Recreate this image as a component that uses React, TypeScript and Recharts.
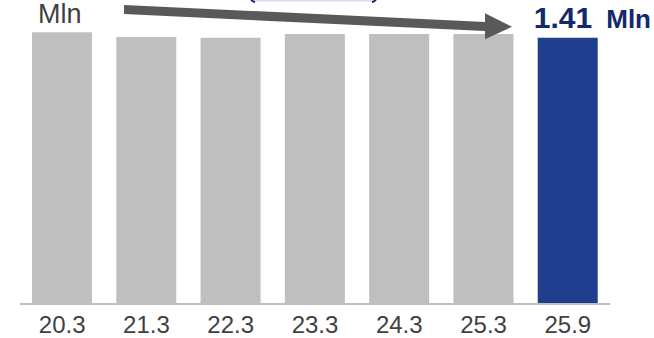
import React from 'react';
import { BarChart, Bar, XAxis, YAxis, Cell } from 'recharts';

const categories = ['20.3', '21.3', '22.3', '23.3', '24.3', '25.3', '25.9'];
const values = [1.44, 1.414, 1.41, 1.431, 1.431, 1.43, 1.41];
const highlightIndex = 6;
const headlineValue = '1.41';
const unitLabel = 'Mln';

const FONT = '"Liberation Sans", Arial, sans-serif';
const GREY = '#bfbfbf';
const NAVY = '#1f3f8e';
const NAVY_TEXT = '#13296b';

const chartData = categories.map((name, i) => ({ name, value: values[i] }));

const CategoryTick = ({ x, payload }: any) => (
    <text x={x} y={333} textAnchor="middle" fontSize={24} fontFamily={FONT} fill="#404040">
        {payload.value}
    </text>
);

export default function App() {
    return (
        <div style={{ position: 'relative', width: 654, height: 338, background: '#fff', overflow: 'hidden' }}>
            <style>{`body { margin: 0; }`}</style>
            <BarChart
                width={654}
                height={338}
                data={chartData}
                margin={{ top: 2, right: 44, left: 20, bottom: 0 }}
            >
                <YAxis hide domain={[0, 1.6]} />
                <XAxis
                    dataKey="name"
                    height={34}
                    axisLine={{ stroke: '#bfbfbf', strokeWidth: 2 }}
                    tickLine={false}
                    interval={0}
                    tick={<CategoryTick />}
                />
                <Bar dataKey="value" barSize={60} isAnimationActive={false}>
                    {chartData.map((d, i) => (
                        <Cell key={d.name} fill={i === highlightIndex ? NAVY : GREY} />
                    ))}
                </Bar>
            </BarChart>

            {/* annotations drawn on top of the chart */}
            <svg width={654} height={338} style={{ position: 'absolute', left: 0, top: 0, pointerEvents: 'none' }}>
                {/* bottom edge of the callout cut by the frame */}
                <rect x={253} y={-10} width={121} height={11.5} fill="#d3dbee" />
                <path d="M250,-6 Q250,1.5 255,2" stroke={NAVY_TEXT} strokeWidth={2} fill="none" />
                <path d="M377,-6 Q377,1.5 372,2" stroke={NAVY_TEXT} strokeWidth={2} fill="none" />

                <text x={38} y={23} fontSize={27} fontFamily={FONT} fill="#404040">
                    {unitLabel}
                </text>

                <polygon
                    points="124,5 485,21.9 485,13.3 512,26.7 485,39.3 485,31.1 124,14"
                    fill="#595959"
                />

                <text x={651} y={27.5} textAnchor="end" fontFamily={FONT} fontWeight="bold" fill={NAVY_TEXT}>
                    <tspan fontSize={30}>{headlineValue}</tspan>
                    <tspan fontSize={26} dx={14}>{unitLabel}</tspan>
                </text>
            </svg>
        </div>
    );
}
